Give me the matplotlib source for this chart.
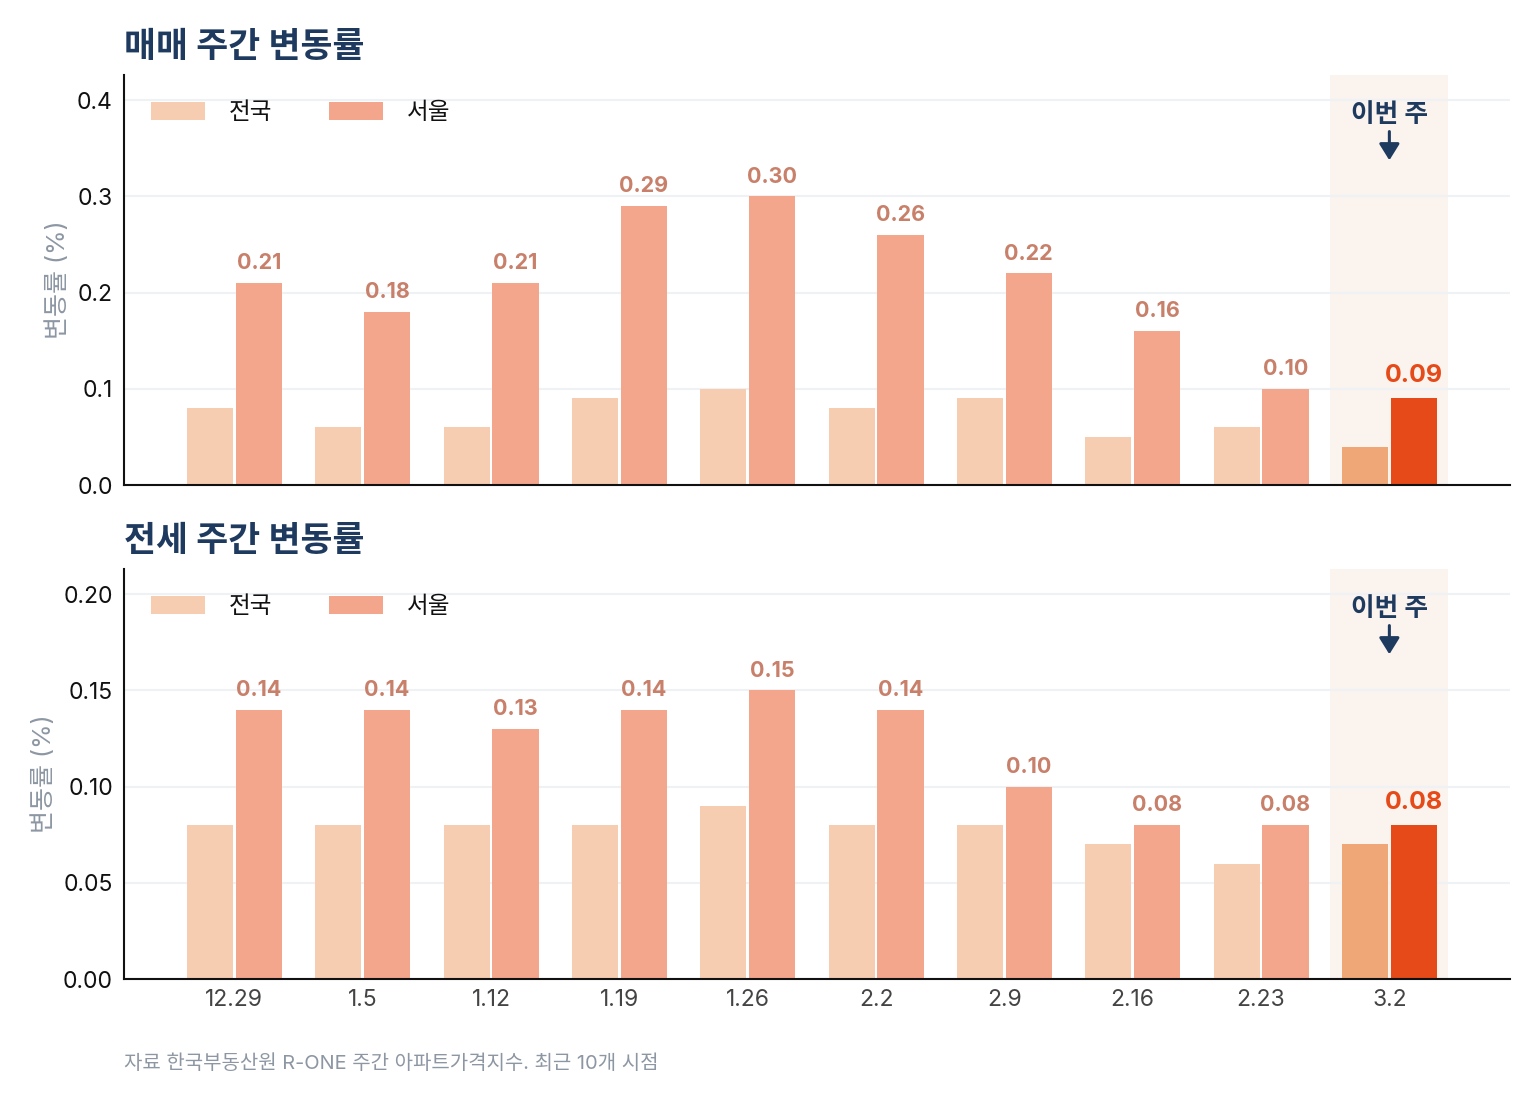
import matplotlib
matplotlib.use("Agg")
import matplotlib.pyplot as plt
import numpy as np

plt.rcParams['font.family'] = ['Inter', 'Noto Sans CJK KR', 'DejaVu Sans']

weeks = ["12.29", "1.5", "1.12", "1.19", "1.26", "2.2", "2.9", "2.16", "2.23", "3.2"]
sale_nation = [0.08, 0.06, 0.06, 0.09, 0.10, 0.08, 0.09, 0.05, 0.06, 0.04]
sale_seoul = [0.21, 0.18, 0.21, 0.29, 0.30, 0.26, 0.22, 0.16, 0.10, 0.09]
jeonse_nation = [0.08, 0.08, 0.08, 0.08, 0.09, 0.08, 0.08, 0.07, 0.06, 0.07]
jeonse_seoul = [0.14, 0.14, 0.13, 0.14, 0.15, 0.14, 0.10, 0.08, 0.08, 0.08]

NAVY = "#1F3A5F"
C_NAT = "#F6CDB0"
C_SEO = "#F4A68C"
C_NAT_HI = "#F0A778"
C_SEO_HI = "#E64A19"
C_LBL = "#C8806A"
GRAY = "#8D97A3"

fig = plt.figure(figsize=(15.4, 11.04), dpi=100)
ax1 = fig.add_axes([124 / 1540, 1 - 485 / 1104, 1386 / 1540, 410 / 1104])
ax2 = fig.add_axes([124 / 1540, 1 - 979 / 1104, 1386 / 1540, 410 / 1104])


def draw_panel(ax, nation, seoul, yticks, fmt, show_x):
    x = np.arange(len(weeks))
    n = len(weeks)
    top = max(seoul) * 1.42
    ax.axvspan(n - 1 - 0.46, n - 1 + 0.46, color="#FAF3EE", zorder=0, lw=0)
    for yt in yticks:
        ax.axhline(yt, color="#EEF2F5", lw=1.5, zorder=0.5)
    nat_colors = [C_NAT] * (n - 1) + [C_NAT_HI]
    seo_colors = [C_SEO] * (n - 1) + [C_SEO_HI]
    w = 0.36
    ax.bar(x - 0.19, nation, width=w, color=nat_colors, zorder=2, label="전국")
    ax.bar(x + 0.19, seoul, width=w, color=seo_colors, zorder=2, label="서울")
    for i, v in enumerate(seoul):
        last = i == n - 1
        ax.annotate(f"{v:.2f}", (x[i] + 0.19, v), xytext=(0, 7 if not last else 8),
                    textcoords="offset points", ha="center", va="bottom",
                    fontsize=18 if last else 15.5, fontweight="bold",
                    color=C_SEO_HI if last else C_LBL, zorder=3)
    ax.set_xlim(-0.86, 9.94)
    ax.set_ylim(0, top)
    ax.set_yticks(yticks)
    ax.set_yticklabels([fmt.format(t) for t in yticks])
    ax.set_xticks(x)
    ax.set_xticklabels(weeks if show_x else [""] * n)
    ax.tick_params(axis="both", length=0, labelsize=16.5)
    ax.tick_params(axis="y", pad=8, labelcolor="#111111")
    ax.tick_params(axis="x", pad=7, labelcolor="#444444")
    for s in ["top", "right"]:
        ax.spines[s].set_visible(False)
    for s in ["left", "bottom"]:
        ax.spines[s].set_linewidth(1.5)
        ax.spines[s].set_color("#111111")
    ax.set_ylabel("변동률 (%)", fontsize=18, color=GRAY, labelpad=5)
    leg = ax.legend(loc="upper left", ncol=2, frameon=False, fontsize=17,
                    handlelength=2.3, handleheight=0.77, columnspacing=2.4,
                    handletextpad=1.0, bbox_to_anchor=(0.004, 0.985))
    for t in leg.get_texts():
        t.set_color("#111111")
    # "이번 주" marker
    ax.text(n - 1, top * 0.902, "이번 주", ha="center", va="center",
            fontsize=18.5, fontweight="bold", color=NAVY)
    ax.annotate("", xy=(n - 1, top * 0.792), xytext=(n - 1, top * 0.862),
                arrowprops=dict(arrowstyle="-|>,head_length=0.45,head_width=0.28",
                                color=NAVY, lw=2.2, mutation_scale=22,
                                shrinkA=0, shrinkB=0))


draw_panel(ax1, sale_nation, sale_seoul, [0.0, 0.1, 0.2, 0.3, 0.4], "{:.1f}", False)
draw_panel(ax2, jeonse_nation, jeonse_seoul, [0.0, 0.05, 0.10, 0.15, 0.20], "{:.2f}", True)

fig.text(124 / 1540, 1 - 48 / 1104, "매매 주간 변동률", fontsize=25, fontweight="bold",
         color=NAVY, ha="left", va="center")
fig.text(124 / 1540, 1 - 542 / 1104, "전세 주간 변동률", fontsize=25, fontweight="bold",
         color=NAVY, ha="left", va="center")
fig.text(124 / 1540, 1 - 1064 / 1104, "자료 한국부동산원 R-ONE 주간 아파트가격지수. 최근 10개 시점",
         fontsize=14.4, color=GRAY, ha="left", va="center")

fig.savefig("out.png", dpi=100)
